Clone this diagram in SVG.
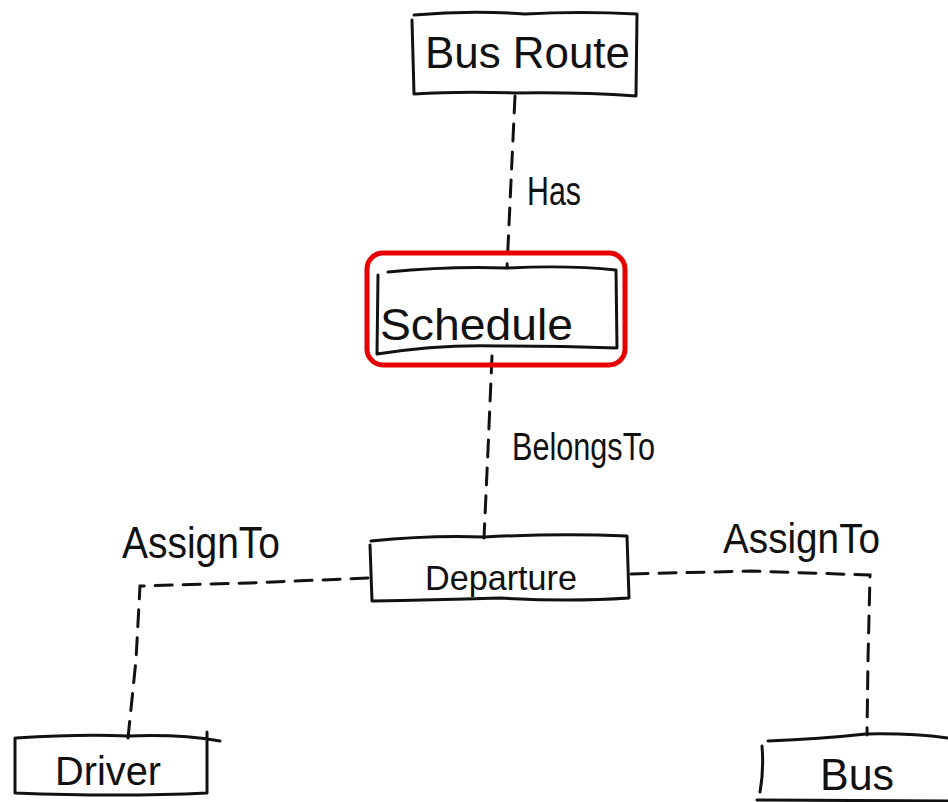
<svg xmlns="http://www.w3.org/2000/svg" width="948" height="802" viewBox="0 0 948 802">
  <style>
    .box { fill: none; stroke: #111; stroke-width: 3; stroke-linecap: round; stroke-linejoin: round; }
    .link { fill: none; stroke: #111; stroke-width: 3; stroke-linecap: round; stroke-dasharray: 17 11; }
    .lbl { font-family: "Liberation Sans", "DejaVu Sans", sans-serif; fill: #111; }
    .mark { fill: none; stroke: #e60000; stroke-width: 5; }
  </style>
  <rect width="948" height="802" fill="#fff"/>

  <!-- connectors -->
  <g id="connectors">
    <path class="link" d="M515 96 L512 160 L507 268"/>
    <path class="link" d="M492 356 L488 450 L484 538"/>
    <path class="link" d="M368 578 L250 583 L140 586 L136 660 L128 738"/>
    <path class="link" d="M631 574 L750 571 L870 575 L868 660 L867 735"/>
  </g>

  <!-- nodes -->
  <g id="bus-route">
    <path class="box" d="M414 15 Q470 10 525 14 Q580 11 637 14 L636 96 Q580 92 515 93 Q460 91 414 94 L412 20"/>
    <text class="lbl" x="425" y="68" font-size="44" textLength="205" lengthAdjust="spacingAndGlyphs">Bus Route</text>
  </g>

  <g id="schedule">
    <rect class="mark" x="367" y="253" width="258" height="112" rx="16"/>
    <path class="box" d="M388 272 Q450 266 506 268 Q570 265 616 270 L617 348 Q560 346 500 346 Q440 344 377 354 L378 275"/>
    <text class="lbl" x="380" y="340" font-size="44" textLength="193" lengthAdjust="spacingAndGlyphs">Schedule</text>
  </g>

  <g id="departure">
    <path class="box" d="M371 541 Q430 535 484 537 Q560 533 627 536 L629 598 Q570 602 500 598 Q430 600 372 601 L370 545"/>
    <text class="lbl" x="425" y="590" font-size="35" textLength="152" lengthAdjust="spacingAndGlyphs">Departure</text>
  </g>

  <g id="driver">
    <path class="box" d="M16 738 Q80 734 128 736 Q180 734 220 741 M207 732 L207 793 Q120 797 15 793 L15 738"/>
    <text class="lbl" x="55" y="785" font-size="40" textLength="106" lengthAdjust="spacingAndGlyphs">Driver</text>
  </g>

  <g id="bus">
    <path class="box" d="M768 741 Q820 739 866 734 Q910 733 948 738 M762 746 Q764 770 760 792 M757 800 L948 801"/>
    <text class="lbl" x="820" y="790" font-size="44" textLength="74" lengthAdjust="spacingAndGlyphs">Bus</text>
  </g>

  <!-- relationship labels -->
  <text class="lbl" x="527" y="205" font-size="40" textLength="54" lengthAdjust="spacingAndGlyphs">Has</text>
  <text class="lbl" x="512" y="460" font-size="38" textLength="143" lengthAdjust="spacingAndGlyphs">BelongsTo</text>
  <text class="lbl" x="122" y="558" font-size="44" textLength="158" lengthAdjust="spacingAndGlyphs">AssignTo</text>
  <text class="lbl" x="723" y="553" font-size="42" textLength="157" lengthAdjust="spacingAndGlyphs">AssignTo</text>
</svg>
